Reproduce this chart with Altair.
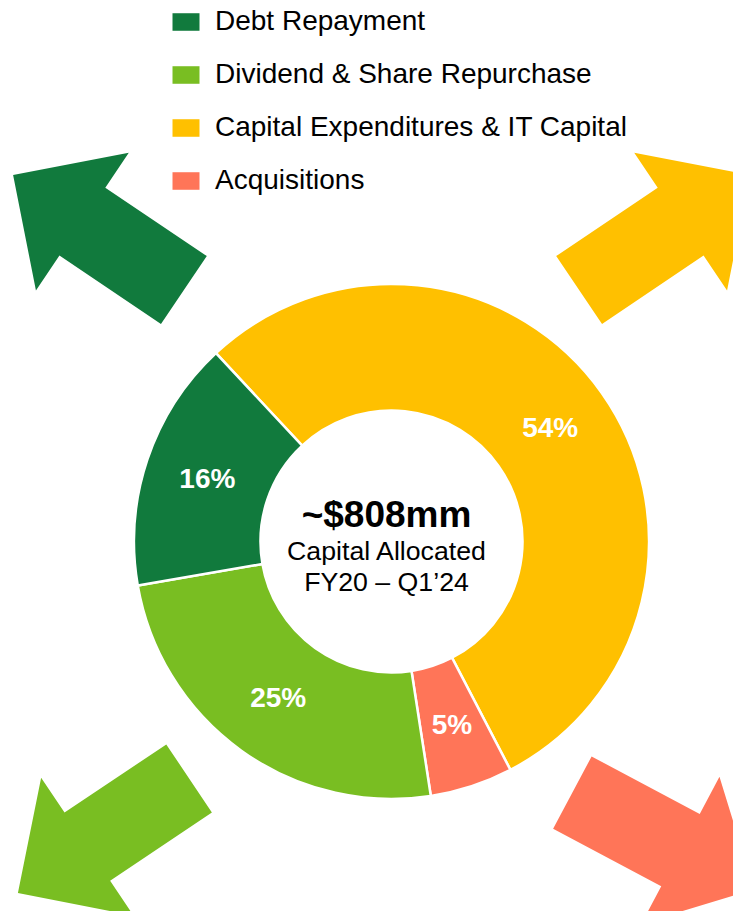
import math
import altair as alt
import pandas as pd

# ---- data ----
CATEGORIES = ["Capital Expenditures & IT Capital", "Acquisitions",
              "Dividend & Share Repurchase", "Debt Repayment"]
SHARES = [54.3, 5.2, 24.7, 15.8]
SHARE_LABELS = ["54%", "5%", "25%", "16%"]
LEGEND_ORDER = ["Debt Repayment", "Dividend & Share Repurchase",
                "Capital Expenditures & IT Capital", "Acquisitions"]
COLORS = ["#117A3D", "#79BE22", "#FFC000", "#FF7558"]  # legend order
CENTER_TITLE = ["~$808mm"]
CENTER_LINES = ["Capital Allocated", "FY20 – Q1’24"]

# ---- layout / style ----
FONT = "Liberation Sans"
W, H = 725, 903
CX, CY = 383.5, 533.5
TX = 378.5
R_OUT, R_IN = 257.5, 131
START = 5.533  # radians, clockwise from 12 o'clock

ARROW_PATH = ("M-1,-0.398L0.189,-0.398L0.189,-0.806L1,0L0.189,0.806"
              "L0.189,0.398L-1,0.398Z")
ARROW_SIZE = 206 ** 2
ARROW_PLACE = {
    "Debt Repayment": (90.5, 224.5, 214),
    "Capital Expenditures & IT Capital": (656.5, 224.5, 326),
    "Dividend & Share Repurchase": (95.5, 827.8, 146.2),
    "Acquisitions": (655.3, 833, 28),
}

df = pd.DataFrame({
    "category": CATEGORIES,
    "share": SHARES,
    "label": SHARE_LABELS,
    "order": list(range(len(CATEGORIES))),
})

color_scale = alt.Scale(domain=LEGEND_ORDER, range=COLORS)
theta = alt.Theta("share:Q", stack=True,
                  scale=alt.Scale(domain=[0, 100], range=[START, START + 2 * math.pi]))
legend = alt.Legend(
    title=None, orient="none", legendX=164, legendY=0,
    symbolType="M-1,-0.65L1,-0.65L1,0.65L-1,0.65Z", symbolSize=729,
    symbolStrokeWidth=0, symbolOpacity=1,
    labelFont=FONT, labelFontSize=28, labelColor="black", labelOffset=15,
    labelLimit=0, rowPadding=25, padding=0,
)

layers = []
for cat in LEGEND_ORDER:
    x, y, ang = ARROW_PLACE[cat]
    col = COLORS[LEGEND_ORDER.index(cat)]
    layers.append(
        alt.Chart(df[df["category"] == cat]).mark_point(
            shape=ARROW_PATH, size=ARROW_SIZE, filled=True, opacity=1,
            angle=ang, color=col, strokeWidth=0,
        ).encode(x=alt.value(x), y=alt.value(y))
    )

arcs = alt.Chart(df).mark_arc(
    radius=R_OUT, innerRadius=R_IN, stroke="white", strokeWidth=2.5
).encode(
    theta=theta,
    color=alt.Color("category:N", scale=color_scale, legend=legend),
    order=alt.Order("order:Q"),
    x=alt.value(CX), y=alt.value(CY),
)

labels = alt.Chart(df).mark_text(
    radius=(R_OUT + R_IN) / 2, font=FONT, fontSize=28, fontWeight="bold",
    color="white", align="center", baseline="middle",
).encode(
    theta=theta,
    text=alt.Text("label:N"),
    detail="category:N",
    order=alt.Order("order:Q"),
    x=alt.value(CX), y=alt.value(CY),
)

title_df = pd.DataFrame({"t": CENTER_TITLE})
lines_df = pd.DataFrame({"t": CENTER_LINES})
center_title = alt.Chart(title_df).mark_text(
    font=FONT, fontSize=37, fontWeight="bold", color="black",
    align="center", baseline="alphabetic",
).encode(text="t:N", x=alt.value(TX), y=alt.value(518.5))

center_l1 = alt.Chart(lines_df.iloc[[0]]).mark_text(
    font=FONT, fontSize=26.7, color="black", align="center", baseline="alphabetic",
).encode(text="t:N", x=alt.value(TX), y=alt.value(552))
center_l2 = alt.Chart(lines_df.iloc[[1]]).mark_text(
    font=FONT, fontSize=26.7, color="black", align="center", baseline="alphabetic",
).encode(text="t:N", x=alt.value(TX), y=alt.value(583))

chart = alt.layer(*layers, arcs, labels, center_title, center_l1, center_l2).properties(
    width=W, height=H,
    autosize=alt.AutoSizeParams(type="none"),
    padding=0,
).configure_view(stroke=None)

chart.save("out.html", embed_options={"renderer": "svg", "actions": False})
